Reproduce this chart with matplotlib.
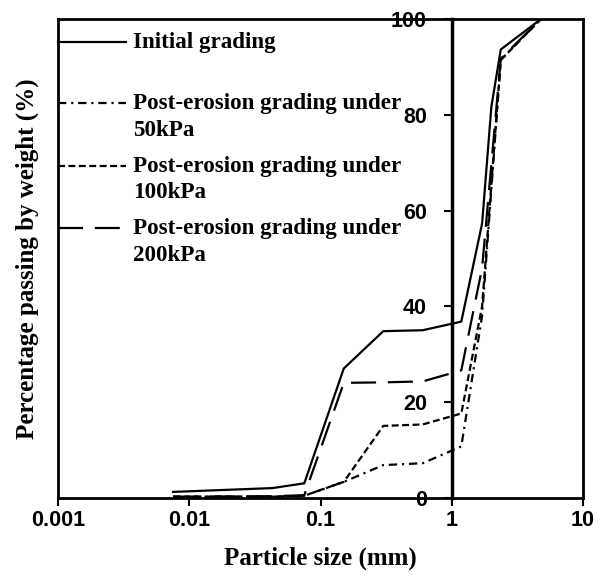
import numpy as np
import matplotlib
matplotlib.use("Agg")
import matplotlib.pyplot as plt
from matplotlib.ticker import FixedLocator, NullLocator

# sieve sizes (mm) and percentage passing
sizes_initial = [0.0075, 0.043, 0.075, 0.15, 0.3, 0.6, 1.18, 1.7, 2.0, 2.36, 4.75]
pass_initial = [1.2, 2.0, 3.0, 27.0, 34.8, 35.0, 36.8, 57.3, 81.7, 93.7, 100]

sizes_post = [0.0075, 0.043, 0.075, 0.15, 0.3, 0.6, 1.18, 1.7, 2.36, 4.75]
pass_50kpa = [0.2, 0.2, 0.4, 3.3, 6.8, 7.2, 10.7, 38, 91.5, 100]
pass_100kpa = [0.2, 0.2, 0.4, 3.3, 15.0, 15.3, 17.6, 40, 91.5, 100]
pass_200kpa = [0.2, 0.3, 0.5, 24.0, 24.1, 24.3, 26.6, 48, 91.8, 100]

labels = ["Initial grading",
          "Post-erosion grading under\n50kPa",
          "Post-erosion grading under\n100kPa",
          "Post-erosion grading under\n200kPa"]

xticks = [0.001, 0.01, 0.1, 1, 10]
xtick_labels = ["0.001", "0.01", "0.1", "1", "10"]
yticks = [0, 20, 40, 60, 80, 100]

plt.rcParams['lines.scale_dashes'] = False
serif = 'Liberation Serif'
sans = 'Liberation Sans'

fig = plt.figure(figsize=(5.98, 5.80), dpi=100)
ax = fig.add_axes([0.0975, 0.142, 0.8775, 0.8247])
ax.set_xscale('log')

lw = 1.6
styles = [dict(ls='-'),
          dict(dashes=(6, 3.5, 1.5, 3.5)),
          dict(dashes=(5, 2.5)),
          dict(dashes=(18, 8.5))]
series = [(sizes_initial, pass_initial), (sizes_post, pass_50kpa),
          (sizes_post, pass_100kpa), (sizes_post, pass_200kpa)]

for (xs, ys), st in zip(series, styles):
    ax.plot(xs, ys, color='black', lw=lw, **st)

ax.set_xlim(0.001, 10)
ax.set_ylim(0, 100)

# y axis crosses at 1 mm
ax.spines['left'].set_position(('data', 1))
ax.axvline(0.001, color='black', lw=2, clip_on=False)
for s in ['left', 'right', 'top', 'bottom']:
    ax.spines[s].set_linewidth(2)
ax.spines['left'].set_linewidth(2.5)

ax.xaxis.set_major_locator(FixedLocator(xticks))
ax.xaxis.set_minor_locator(NullLocator())
ax.set_xticklabels(xtick_labels, fontfamily=sans, fontweight='bold', fontsize=15.5)
ax.set_yticks(yticks)
ax.set_yticklabels([str(v) for v in yticks], fontfamily=sans, fontweight='bold', fontsize=15.5)
ax.tick_params(axis='x', direction='out', length=6, width=1.5, pad=3)
ax.tick_params(axis='y', direction='out', length=6, width=1.5, pad=12)

ax.set_xlabel("Particle size (mm)", fontfamily=serif, fontweight='bold', fontsize=18, labelpad=11)
fig.text(0.045, 0.554, "Percentage passing by weight (%)", rotation=90,
         ha='center', va='center', fontfamily=serif, fontweight='bold', fontsize=18)

# legend drawn by hand, handles level with the first text line
leg_y = [0.953, 0.825, 0.694, 0.564]
for y, st, lab in zip(leg_y, styles, labels):
    ax.plot([0.0, 0.129], [y, y], transform=ax.transAxes, color='black', lw=lw,
            clip_on=False, **st)
    ax.text(0.142, y + 0.021, lab, transform=ax.transAxes, ha='left', va='top',
            fontfamily=serif, fontweight='bold', fontsize=16.6, linespacing=1.36)

fig.savefig("out.png", dpi=100)
